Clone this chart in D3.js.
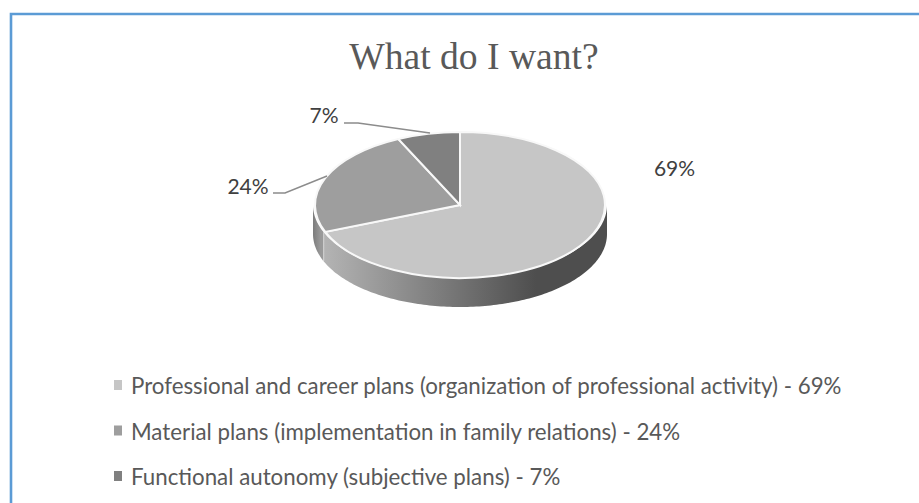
<!DOCTYPE html>
<html>
<head>
<meta charset="utf-8">
<script src="https://cdn.jsdelivr.net/npm/d3@7"></script>
<style>
html, body { margin: 0; padding: 0; background: #fff; overflow: hidden; }
svg { display: block; }
</style>
</head>
<body>
<svg id="canvas" width="919" height="503"></svg>
<script>
const TITLE = "What do I want?";
const CATEGORIES = [
    "Professional and career plans (organization of professional activity) - 69%",
    "Material plans (implementation in family relations) - 24%",
    "Functional autonomy (subjective plans) - 7%"
];
const VALUES = [69, 24, 7];
const LABELS = ["69%", "24%", "7%"];
const COLORS = ["#c6c6c6", "#9e9e9e", "#808080"];
const WALL_STOPS = [["#b4b4b4", "#4e4e4e"], ["#7c7c7c", "#9a9a9a"], ["#555", "#555"]];

const WIDTH = 919;
const HEIGHT = 503;
const CX = 460;
const CY = 205;
const RX = 145;
const RY = 73;
const WALL_RX = 147;
const DEPTH = 29;

const svg = d3.select("#canvas");

// frame: only the top and the left edge are in the picture
svg.append("path")
    .attr("d", d3.line()([[11, HEIGHT], [11, 14], [WIDTH, 14]]))
    .attr("fill", "none")
    .attr("stroke", "#5b9bd5")
    .attr("stroke-width", 2.6);

svg.append("text")
    .attr("x", 474)
    .attr("y", 69)
    .attr("text-anchor", "middle")
    .attr("font-family", "'Liberation Serif'")
    .attr("font-size", 37.6)
    .attr("fill", "#595959")
    .text(TITLE);

const slices = d3.pie().sort(null)(VALUES);

const ex = (a, r) => CX + r * Math.sin(a);
const ey = a => CY - RY * Math.cos(a);

const defs = svg.append("defs");
slices.forEach((s, i) => {
    const from = Math.max(s.startAngle, Math.PI / 2);
    const to = Math.min(s.endAngle, Math.PI * 1.5);
    const grad = defs.append("linearGradient")
        .attr("id", "wall" + i)
        .attr("gradientUnits", "userSpaceOnUse")
        .attr("x1", ex(to, WALL_RX)).attr("x2", ex(from, WALL_RX))
        .attr("y1", 0).attr("y2", 0);
    grad.append("stop").attr("offset", 0).attr("stop-color", WALL_STOPS[i][0]);
    grad.append("stop").attr("offset", 0.75).attr("stop-color", WALL_STOPS[i][1]);
    grad.append("stop").attr("offset", 1).attr("stop-color", WALL_STOPS[i][1]);
});

// side wall of the pie, only the part that faces the viewer
const wallLine = d3.line();
slices.forEach((s, i) => {
    const from = Math.max(s.startAngle, Math.PI / 2);
    const to = Math.min(s.endAngle, Math.PI * 1.5);
    if (to <= from) return;
    const angles = d3.range(from, to, 0.02).concat([to]);
    const top = angles.map(a => [ex(a, WALL_RX), ey(a)]);
    const bottom = angles.map(a => [ex(a, WALL_RX), ey(a) + DEPTH]).reverse();
    svg.append("path")
        .attr("d", wallLine(top.concat(bottom)) + "Z")
        .attr("fill", `url(#wall${i})`);
    if (i === 0) {
        svg.append("path")
            .attr("d", wallLine([[ex(to, WALL_RX), ey(to)], [ex(to, WALL_RX), ey(to) + DEPTH]]))
            .attr("stroke", "#e4e4e4")
            .attr("stroke-width", 1.6);
    }
});

// top face: a circle squeezed into the ellipse
const arc = d3.arc().innerRadius(0).outerRadius(RX);
svg.append("g")
    .attr("transform", `translate(${CX},${CY}) scale(1,${RY / RX})`)
    .selectAll("path")
    .data(slices)
    .enter()
    .append("path")
    .attr("d", arc)
    .attr("fill", (d, i) => COLORS[i])
    .attr("stroke", "#f8f8f8")
    .attr("stroke-width", 2)
    .attr("vector-effect", "non-scaling-stroke");

// data labels and their leader lines
const LABEL_POS = [[674.5, 176], [248, 194], [324, 122.5]];
const LEADERS = [null, [[273, 193], [285, 193], [327, 176]], [[344, 123], [358, 123], [430, 133]]];

svg.selectAll(".label")
    .data(LABELS)
    .enter()
    .append("text")
    .attr("class", "label")
    .attr("x", (d, i) => LABEL_POS[i][0])
    .attr("y", (d, i) => LABEL_POS[i][1])
    .attr("text-anchor", "middle")
    .attr("font-family", "Lato")
    .attr("font-size", 21)
    .attr("fill", "#404040")
    .text(d => d);

svg.selectAll(".leader")
    .data(LEADERS.filter(d => d))
    .enter()
    .append("path")
    .attr("class", "leader")
    .attr("d", d => d3.line()(d))
    .attr("fill", "none")
    .attr("stroke", "#8c8c8c")
    .attr("stroke-width", 1.5);

// legend
const legendY = d3.scalePoint()
    .domain(CATEGORIES)
    .range([394, 485]);

const legend = svg.selectAll(".legend")
    .data(CATEGORIES)
    .enter()
    .append("g")
    .attr("class", "legend")
    .attr("transform", d => `translate(0,${legendY(d)})`);

legend.append("rect")
    .attr("x", 114)
    .attr("y", -14)
    .attr("width", 8)
    .attr("height", 10)
    .attr("fill", (d, i) => COLORS[i]);

legend.append("text")
    .attr("x", 131)
    .attr("font-family", "Lato")
    .attr("font-size", 22.3)
    .attr("fill", "#595959")
    .text(d => d);
</script>
</body>
</html>
